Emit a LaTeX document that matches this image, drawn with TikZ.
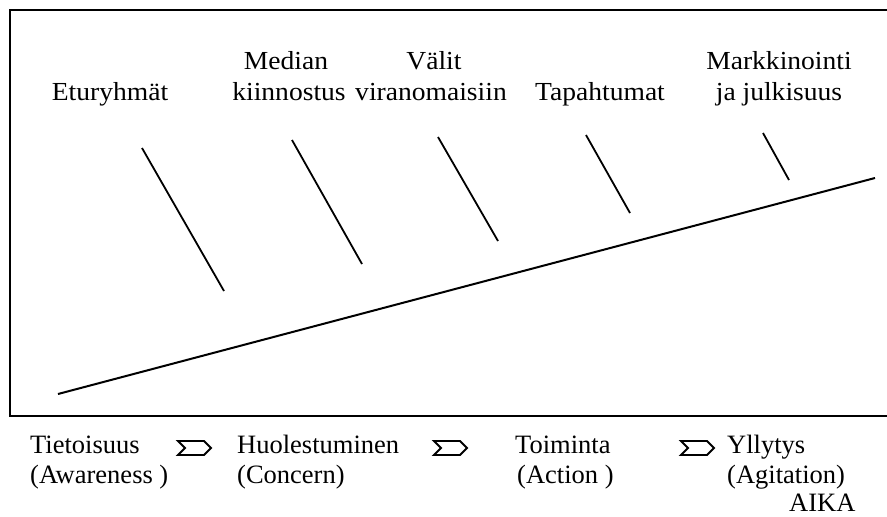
\documentclass[tikz,border=0pt]{standalone}
\usepackage{fontspec}
\setmainfont{Liberation Serif}
\begin{document}
\begin{tikzpicture}[x=1pt,y=-1pt,
  toplbl/.style={font=\fontsize{26}{30}\selectfont, inner sep=0pt, anchor=base, xscale=1.06},
  botlbl/.style={font=\fontsize{26.5}{30}\selectfont, inner sep=0pt, anchor=base west},
  frame/.style={line width=2pt},
  spine/.style={line width=2pt},
  rib/.style={line width=1.8pt},
  chevron/.style={line width=1.9pt, line join=miter}]
\useasboundingbox (0,0) rectangle (887,517);
\fill[white] (0,0) rectangle (887,517);
% frame (open at right, clipped by page)
\draw[frame] (890,10) -- (10,10) -- (10,416) -- (890,416);
% spine
\coordinate (s0) at (58,394);
\coordinate (s1) at (875,178);
\draw[spine] (s0) -- (s1);
% ribs
\coordinate (r1a) at (142,148); \coordinate (r1b) at (224,291);
\coordinate (r2a) at (292,140); \coordinate (r2b) at (362,264);
\coordinate (r3a) at (438,137); \coordinate (r3b) at (498,241);
\coordinate (r4a) at (586,135); \coordinate (r4b) at (630,213);
\coordinate (r5a) at (763,133); \coordinate (r5b) at (789,180);
\draw[rib] (r1a) -- (r1b);
\draw[rib] (r2a) -- (r2b);
\draw[rib] (r3a) -- (r3b);
\draw[rib] (r4a) -- (r4b);
\draw[rib] (r5a) -- (r5b);
% top labels
\node[toplbl] (eturyhmat) at (110,100) {Eturyhmät};
\node[toplbl] (median1) at (286,69) {Median};
\node[toplbl] (median2) at (289,100) {kiinnostus};
\node[toplbl] (valit1) at (434,69) {Välit};
\node[toplbl] (valit2) at (431,100) {viranomaisiin};
\node[toplbl] (tapahtumat) at (600,100) {Tapahtumat};
\node[toplbl] (mark1) at (779,69) {Markkinointi};
\node[toplbl] (mark2) at (779,100) {ja julkisuus};
% bottom labels
\node[botlbl] (tieto1) at (30,453) {Tietoisuus};
\node[botlbl] (tieto2) at (30,483) {(Awareness )};
\node[botlbl] (huole1) at (237,453) {Huolestuminen};
\node[botlbl] (huole2) at (237,483) {(Concern)};
\node[botlbl] (toim1) at (515,453) {Toiminta};
\node[botlbl] (toim2) at (517,483) {(Action )};
\node[botlbl] (yll1) at (727,453) {Yllytys};
\node[botlbl] (yll2) at (727,483) {(Agitation)};
\node[botlbl] (aika) at (789,511) {AIKA};
% chevrons
\foreach \cx in {178,434,681}{
  \draw[chevron] (\cx,441) -- ++(26,0) -- ++(7,7) -- ++(-7,7) -- ++(-26,0) -- ++(7,-7) -- cycle;
}
\end{tikzpicture}
\end{document}
